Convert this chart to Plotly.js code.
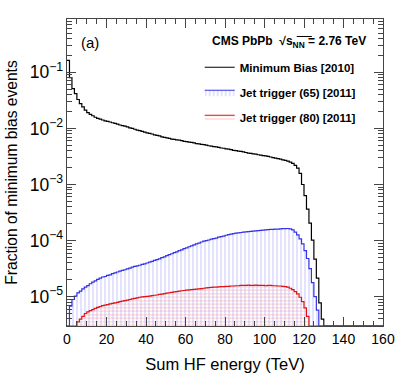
<!DOCTYPE html>
<html>
<head>
<meta charset="utf-8">
<script src="https://cdn.plot.ly/plotly-3.0.1.min.js"></script>
<style>
  html, body { margin: 0; padding: 0; background: #fff; }
  #plot { width: 399px; height: 379px; }
</style>
</head>
<body>
<div id="plot"></div>
<script>
// histogram binning (TeV)
var binWidth = 1.25;
var nBins = 128;
// empty bins are drawn on the bottom of the frame, like ROOT does
var FLOOR = 3e-6;

// Minimum Bias [2010], bins 0..103
var minBias = [
  0.163, 0.0805, 0.0513, 0.0417, 0.0327, 0.0277, 0.0242, 0.0211, 0.0191, 0.0178,
  0.0168, 0.0158, 0.0151, 0.0146, 0.0141, 0.0136, 0.0133, 0.0130, 0.0126, 0.0123,
  0.0119, 0.0115, 0.0112, 0.0110, 0.0106, 0.0102, 0.0100, 0.00966, 0.00933, 0.00912,
  0.00881, 0.00861, 0.00832, 0.00813, 0.00794, 0.00767, 0.00750, 0.00733, 0.00708, 0.00692,
  0.00676, 0.00661, 0.00646, 0.00638, 0.00624, 0.00617, 0.00603, 0.00589, 0.00582, 0.00569,
  0.00562, 0.00550, 0.00537, 0.00531, 0.00519, 0.00513, 0.00501, 0.00490, 0.00484, 0.00473,
  0.00468, 0.00457, 0.00447, 0.00442, 0.00432, 0.00427, 0.00417, 0.00407, 0.00403, 0.00394,
  0.00389, 0.00380, 0.00372, 0.00363, 0.00359, 0.00351, 0.00347, 0.00339, 0.00335, 0.00327,
  0.00324, 0.00316, 0.00309, 0.00302, 0.00295, 0.00288, 0.00282, 0.00275, 0.00269, 0.00260,
  0.00251, 0.00237, 0.00219, 0.00195, 0.00158, 0.00100, 6.31e-4, 3.63e-4, 2.04e-4, 1.02e-4,
  4.68e-5, 2.14e-5, 7.76e-6, 3.98e-6
];

// Jet trigger (65) [2011], bins 0..101
var jet65 = [
  0, 6.76e-6, 8.91e-6, 1.02e-5, 1.17e-5, 1.26e-5, 1.38e-5, 1.48e-5, 1.58e-5, 1.70e-5,
  1.82e-5, 1.91e-5, 2.04e-5, 2.14e-5, 2.24e-5, 2.29e-5, 2.40e-5, 2.45e-5, 2.57e-5, 2.66e-5,
  2.75e-5, 2.85e-5, 2.95e-5, 3.02e-5, 3.13e-5, 3.24e-5, 3.35e-5, 3.47e-5, 3.55e-5, 3.63e-5,
  3.76e-5, 3.85e-5, 3.98e-5, 4.12e-5, 4.27e-5, 4.42e-5, 4.57e-5, 4.73e-5, 4.95e-5, 5.13e-5,
  5.37e-5, 5.62e-5, 5.82e-5, 6.10e-5, 6.31e-5, 6.61e-5, 6.84e-5, 7.16e-5, 7.41e-5, 7.76e-5,
  8.04e-5, 8.41e-5, 8.71e-5, 9.02e-5, 9.44e-5, 9.77e-5, 1.00e-4, 1.023e-4, 1.06e-4, 1.084e-4,
  1.11e-4, 1.148e-4, 1.175e-4, 1.20e-4, 1.245e-4, 1.274e-4, 1.30e-4, 1.334e-4, 1.355e-4, 1.374e-4,
  1.393e-4, 1.413e-4, 1.429e-4, 1.445e-4, 1.462e-4, 1.479e-4, 1.493e-4, 1.507e-4, 1.521e-4, 1.535e-4,
  1.549e-4, 1.563e-4, 1.578e-4, 1.585e-4, 1.596e-4, 1.603e-4, 1.622e-4, 1.629e-4, 1.637e-4, 1.641e-4,
  1.622e-4, 1.549e-4, 1.413e-4, 1.259e-4, 1.072e-4, 8.71e-5, 6.61e-5, 4.79e-5, 3.16e-5, 1.78e-5,
  1.0e-5, 5.75e-6
];

// Jet trigger (80) [2011], bins 0..97
var jet80 = [
  0, 0, 0, 0, 3.55e-6, 3.98e-6, 4.47e-6, 5.01e-6, 5.37e-6, 5.62e-6,
  5.89e-6, 6.17e-6, 6.46e-6, 6.68e-6, 6.92e-6, 7.08e-6, 7.24e-6, 7.41e-6, 7.59e-6, 7.76e-6,
  7.94e-6, 8.13e-6, 8.32e-6, 8.51e-6, 8.71e-6, 8.91e-6, 9.12e-6, 9.33e-6, 9.55e-6, 9.77e-6,
  9.89e-6, 1.00e-5, 1.012e-5, 1.023e-5, 1.047e-5, 1.059e-5, 1.072e-5, 1.096e-5, 1.109e-5, 1.135e-5,
  1.161e-5, 1.175e-5, 1.189e-5, 1.216e-5, 1.230e-5, 1.259e-5, 1.274e-5, 1.288e-5, 1.303e-5, 1.318e-5,
  1.334e-5, 1.349e-5, 1.365e-5, 1.380e-5, 1.396e-5, 1.413e-5, 1.429e-5, 1.445e-5, 1.462e-5, 1.479e-5,
  1.479e-5, 1.496e-5, 1.514e-5, 1.514e-5, 1.531e-5, 1.531e-5, 1.549e-5, 1.549e-5, 1.567e-5, 1.567e-5,
  1.585e-5, 1.585e-5, 1.585e-5, 1.603e-5, 1.585e-5, 1.585e-5, 1.603e-5, 1.585e-5, 1.585e-5, 1.585e-5,
  1.567e-5, 1.585e-5, 1.585e-5, 1.567e-5, 1.567e-5, 1.549e-5, 1.549e-5, 1.531e-5, 1.514e-5, 1.479e-5,
  1.413e-5, 1.334e-5, 1.230e-5, 1.122e-5, 9.77e-6, 8.13e-6, 6.31e-6, 4.47e-6
];

var names = ["Minimum Bias [2010]", "Jet trigger (65) [2011]", "Jet trigger (80) [2011]"];

// turn bin contents into a step outline over the full axis
function steps(vals){
  var x = [], y = [];
  for(var i=0; i<nBins; i++){
    var v = (i < vals.length) ? vals[i] : 0;
    if(!(v > 0)) v = FLOOR;
    x.push(i*binWidth);
    y.push(v);
  }
  x.push(nBins*binWidth);
  y.push(y[y.length-1]);
  return {x:x, y:y};
}

var s0 = steps(minBias), s1 = steps(jet65), s2 = steps(jet80);

var data = [
  {
    x: s0.x, y: s0.y, name: names[0], type: "scatter", mode: "lines",
    line: {shape: "hv", color: "#000000", width: 1.2},
    legendgroup: "a"
  },
  {
    x: s1.x, y: s1.y, name: names[1], type: "scatter", mode: "lines",
    line: {shape: "hv", color: "#3434e6", width: 1.2},
    fill: "tozeroy", fillcolor: "rgba(0,0,0,0)",
    fillpattern: {shape: "|", fgcolor: "rgba(150,150,255,0.55)", bgcolor: "rgba(0,0,0,0)", size: 4, solidity: 0.25},
    legendgroup: "b"
  },
  {
    x: s2.x, y: s2.y, name: names[2], type: "scatter", mode: "lines",
    line: {shape: "hv", color: "#e01414", width: 1.2},
    fill: "tozeroy", fillcolor: "rgba(0,0,0,0)",
    fillpattern: {shape: "-", fgcolor: "rgba(255,150,150,0.55)", bgcolor: "rgba(0,0,0,0)", size: 3.5, solidity: 0.28},
    legendgroup: "c"
  }
];

var axisFont = {family: "Liberation Sans, Arial, sans-serif", size: 14, color: "#000"};

var layout = {
  width: 399, height: 379,
  margin: {l: 67, r: 16, t: 19, b: 53},
  paper_bgcolor: "#fff", plot_bgcolor: "#fff",
  font: {family: "Liberation Sans, Arial, sans-serif", color: "#000"},
  showlegend: true,
  legend: {
    x: 0.42, y: 0.89, xanchor: "left", yanchor: "top",
    bgcolor: "rgba(0,0,0,0)",
    font: {family: "Liberation Sans, Arial, sans-serif", size: 11.5, color: "#000", weight: "bold"},
    traceorder: "grouped", tracegroupgap: 6, itemwidth: 30
  },
  xaxis: {
    range: [0, 160], dtick: 20, tick0: 0,
    ticks: "inside", ticklen: 9, tickcolor: "#444", tickwidth: 1,
    minor: {dtick: 5, ticks: "inside", ticklen: 5, tickcolor: "#444", showgrid: false},
    showline: true, linecolor: "#444", linewidth: 1, mirror: "allticks",
    showgrid: false, zeroline: false,
    tickfont: axisFont,
    title: {text: "Sum HF energy (TeV)", font: {family: "Liberation Sans, Arial, sans-serif", size: 16.5, color: "#000"}, standoff: 12}
  },
  yaxis: {
    type: "log", range: [Math.log10(FLOOR), -0.05], dtick: 1,
    exponentformat: "power", showexponent: "all",
    ticks: "inside", ticklen: 9, tickcolor: "#444", tickwidth: 1,
    minor: {dtick: "D1", ticks: "inside", ticklen: 5, tickcolor: "#444", showgrid: false},
    showline: true, linecolor: "#444", linewidth: 1, mirror: "allticks",
    showgrid: false, zeroline: false,
    tickfont: axisFont,
    title: {text: "Fraction of minimum bias events", font: {family: "Liberation Sans, Arial, sans-serif", size: 15.6, color: "#000"}, standoff: 8}
  },
  annotations: [
    {xref: "paper", yref: "paper", x: 0.037, y: 0.925, xanchor: "left", yanchor: "middle",
     text: "(a)", showarrow: false, font: {size: 15, color: "#000"}},
    {xref: "paper", yref: "paper", x: 0.452, y: 0.925, xanchor: "left", yanchor: "middle",
     text: "<b>CMS PbPb  √s<sub>NN</sub> = 2.76 TeV</b>", showarrow: false, font: {size: 12, color: "#000"}}
  ],
  shapes: [
    // overline of the square root
    {type: "line", xref: "paper", yref: "paper", x0: 0.727, x1: 0.775, y0: 0.943, y1: 0.943,
     line: {color: "#000", width: 1}}
  ]
};

Plotly.newPlot("plot", data, layout, {displayModeBar: false, staticPlot: true});
</script>
</body>
</html>
